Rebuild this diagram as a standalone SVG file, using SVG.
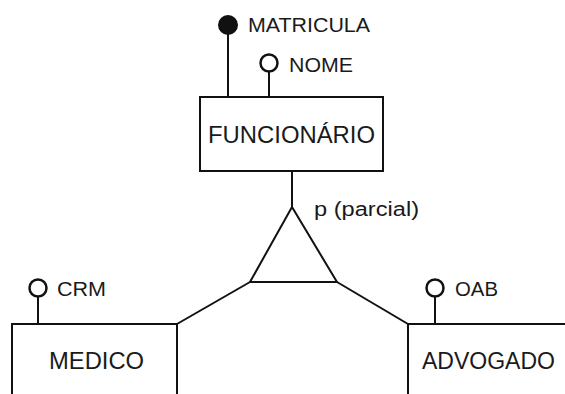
<svg xmlns="http://www.w3.org/2000/svg" width="565" height="394" viewBox="0 0 565 394">
<style>
.ent{fill:#fff;stroke:#111;stroke-width:2}
.ln{fill:none;stroke:#111;stroke-width:2}
.att{fill:#fff;stroke:#111;stroke-width:2.5}
.key{fill:#111;stroke:#111;stroke-width:2}
.big{font-family:"Liberation Sans",Arial,sans-serif;font-size:23px;fill:#1a1a1a}
.sm{font-family:"Liberation Sans",Arial,sans-serif;font-size:20px;fill:#1a1a1a}
</style>
<rect width="565" height="394" fill="#fff"/>
<g id="connectors">
<line class="ln" x1="228" y1="34" x2="228" y2="97"/>
<line class="ln" x1="269" y1="72" x2="269" y2="97"/>
<line class="ln" x1="292" y1="171" x2="292" y2="207"/>
<line class="ln" x1="250" y1="282" x2="177" y2="324"/>
<line class="ln" x1="337" y1="282" x2="408" y2="324"/>
<line class="ln" x1="38" y1="297" x2="38" y2="324"/>
<line class="ln" x1="435" y1="297" x2="435" y2="324"/>
</g>
<g id="funcionario">
<rect class="ent" x="200" y="97" width="183" height="74"/>
<text class="big" x="208" y="143" textLength="167" lengthAdjust="spacingAndGlyphs">FUNCIONÁRIO</text>
</g>
<g id="matricula">
<circle class="key" cx="228" cy="25" r="9"/>
<text class="sm" x="248" y="32" textLength="122" lengthAdjust="spacingAndGlyphs">MATRICULA</text>
</g>
<g id="nome">
<circle class="att" cx="269" cy="63" r="8.5"/>
<text class="sm" x="289" y="72" textLength="64" lengthAdjust="spacingAndGlyphs">NOME</text>
</g>
<g id="especializacao">
<polygon class="ln" points="292,207 250,282 337,282"/>
<text class="sm" x="314" y="216" textLength="105" lengthAdjust="spacingAndGlyphs">p (parcial)</text>
</g>
<g id="medico">
<rect class="ent" x="12" y="324" width="165" height="90"/>
<text class="big" x="49" y="369" textLength="95" lengthAdjust="spacingAndGlyphs">MEDICO</text>
</g>
<g id="crm">
<circle class="att" cx="38" cy="288" r="8.5"/>
<text class="sm" x="57" y="296" textLength="49" lengthAdjust="spacingAndGlyphs">CRM</text>
</g>
<g id="advogado">
<rect class="ent" x="408" y="324" width="180" height="90"/>
<text class="big" x="422" y="369" textLength="133" lengthAdjust="spacingAndGlyphs">ADVOGADO</text>
</g>
<g id="oab">
<circle class="att" cx="435" cy="288" r="8.5"/>
<text class="sm" x="455" y="296" textLength="43" lengthAdjust="spacingAndGlyphs">OAB</text>
</g>
</svg>
